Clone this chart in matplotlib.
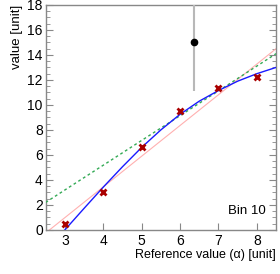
import matplotlib
matplotlib.use('Agg')
import matplotlib.pyplot as plt
from matplotlib.ticker import MultipleLocator

plt.rcParams['font.family'] = ['Liberation Sans', 'DejaVu Sans']

# measured points (red crosses)
meas_x = [3, 4, 5, 6, 7, 8]
meas_y = [0.45, 3.0, 6.6, 9.5, 11.35, 12.25]

# highlighted point with error
pt_x = [6.37]
pt_y = [15.0]
pt_err = [3.9]

# blue curve samples
curve_x = [3.0, 3.5, 4.0, 4.5, 5.0, 5.5, 6.0, 6.5, 7.0, 7.5, 8.0, 8.5]
curve_y = [0.0, 1.72, 3.42, 5.05, 6.6, 8.0, 9.25, 10.3, 11.15, 11.9, 12.5, 13.0]

# straight lines
green_x = [2.5, 8.5]
green_y = [2.2, 14.1]
pink_x = [2.5, 8.5]
pink_y = [-0.25, 14.5]

fig = plt.figure(figsize=(2.8, 2.74), dpi=100)
ax = fig.add_axes([0.163, 0.161, 0.823, 0.821])

ax.plot(pink_x, pink_y, color='#ffb0b0', lw=0.8, zorder=2)
ax.plot(green_x, green_y, color='#33aa55', lw=1.0, ls=(0, (2, 2)), zorder=3)
ax.plot(curve_x, curve_y, color='#1a1aff', lw=1.0, zorder=4)
ax.plot(meas_x, meas_y, ls='none', marker='x', ms=4.2, color='#aa0000',
        mew=2.0, zorder=5)
ax.errorbar(pt_x, pt_y, yerr=pt_err, fmt='o', color='black', ms=4.5,
            ecolor='#b8b8b8', elinewidth=1.5, capsize=0, zorder=6)

ax.set_xlim(2.5, 8.5)
ax.set_ylim(0, 18)
ax.xaxis.set_major_locator(MultipleLocator(1))
ax.yaxis.set_major_locator(MultipleLocator(2))
ax.yaxis.set_minor_locator(MultipleLocator(0.5))

for s in ax.spines.values():
    s.set_color('#888888')
    s.set_linewidth(1.0)

ax.tick_params(axis='y', which='both', direction='in', left=True, right=True,
               color='#888888', labelsize=10, pad=2)
ax.tick_params(axis='y', which='major', length=5)
ax.tick_params(axis='y', which='minor', length=3)
ax.tick_params(axis='x', which='major', direction='in', top=False, length=5,
               color='#888888', labelsize=10, pad=3)

ax.set_xlabel('Reference value (α) [unit]', fontsize=9, loc='right', labelpad=1)
ax.set_ylabel('value [unit]', fontsize=9.5, loc='top', labelpad=3)

ax.text(0.955, 0.085, 'Bin 10', transform=ax.transAxes, ha='right',
        va='center', fontsize=9.5)

fig.savefig('out.png', dpi=100)
